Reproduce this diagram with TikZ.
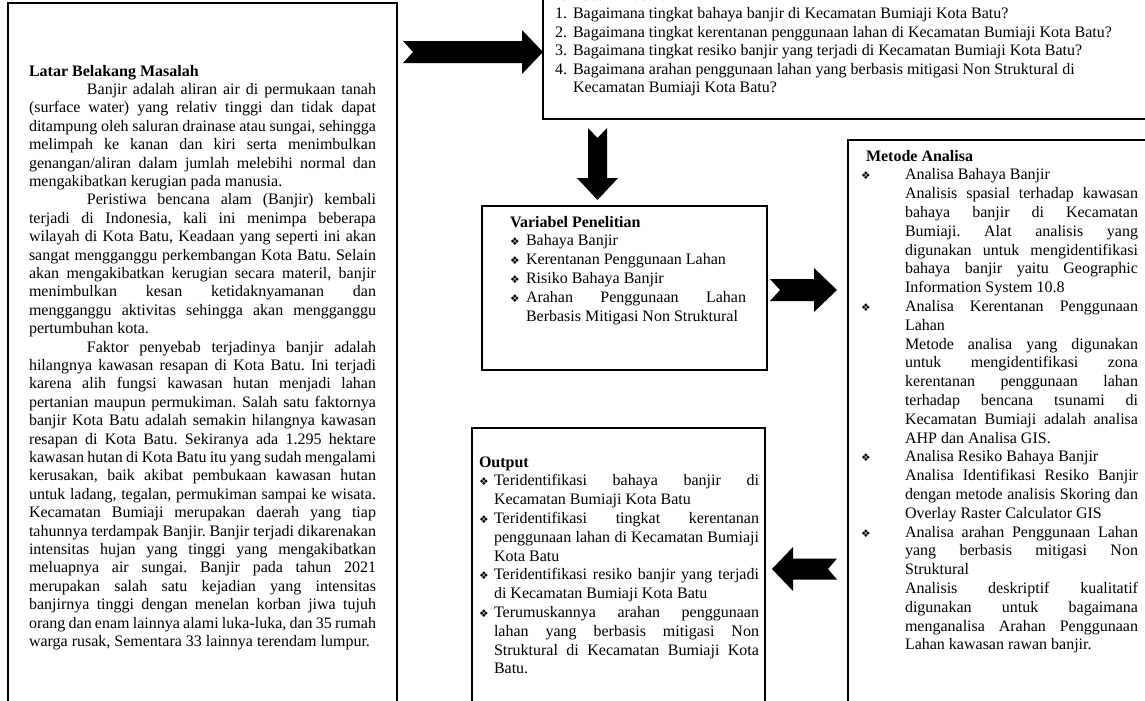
\documentclass[tikz,border=0pt]{standalone}
\usepackage{fontspec}
\setmainfont{Liberation Serif}
\newfontfamily\symfont{DejaVu Sans}
\usetikzlibrary{calc}
\frenchspacing
\newcommand{\JL}[1]{\makebox[\linewidth][s]{#1}\\}
\newcommand{\LL}[1]{\makebox[\linewidth][l]{#1}\\}
\newcommand{\EL}[1]{\makebox[\linewidth][l]{#1}}
\newcommand{\bul}[1]{\llap{\makebox[#1][l]{\symfont\fontsize{8}{8}\selectfont ❖}}}
\newcommand{\setfs}{\fontsize{12}{13.8}\selectfont\frenchspacing}
\newcommand{\setfr}{\fontsize{12}{14.1}\selectfont\frenchspacing}
\newcommand{\blockarrow}[6]{%
  \coordinate (bah) at ($(#2)!#5!(#1)$);
  \coordinate (ban) at ($(#1)!#6!(#2)$);
  \fill[arrowfill] ($(#1)!#3!90:(#2)$) -- ($(bah)!#3!90:(#2)$) -- ($(bah)!#4!90:(#2)$)
    -- (#2) -- ($(bah)!#4!-90:(#2)$) -- ($(bah)!#3!-90:(#2)$) -- ($(#1)!#3!-90:(#2)$)
    -- (ban) -- cycle;
}
\begin{document}
\begin{tikzpicture}[x=0.75pt,y=-0.75pt,
  box/.style={draw=black,line width=1.5pt,anchor=north west,inner sep=0pt,outer sep=0pt},
  txt/.style={anchor=base west,inner sep=0pt,outer sep=0pt},
  arrowfill/.style={fill=black}]
\useasboundingbox (0,0) rectangle (1145,700);
\clip (0,0) rectangle (1145,700);
\fill[white] (0,0) rectangle (1145,700);

% boxes
\node[box,minimum width=291.75pt,minimum height=537.75pt] (lb) at (8,3) {};
\node[box,minimum width=465pt,minimum height=104.25pt] (rm) at (543,-20) {};
\node[box,minimum width=213.75pt,minimum height=123pt] (vp) at (482,206) {};
\node[box,minimum width=234pt,minimum height=435pt] (ma) at (848,140) {};
\node[box,minimum width=219.75pt,minimum height=219pt] (op) at (472,428) {};

% left box text
\node[txt] (lbt) at (29,76) {\parbox[t]{260.25pt}{\setfs
\LL{\textbf{Latar Belakang Masalah}}
\JL{\hspace*{43.5pt}Banjir adalah aliran air di permukaan tanah}
\JL{(surface water) yang relativ tinggi dan tidak dapat}
\JL{ditampung oleh saluran drainase atau sungai, sehingga}
\JL{melimpah ke kanan dan kiri serta menimbulkan}
\JL{genangan/aliran dalam jumlah melebihi normal dan}
\LL{mengakibatkan kerugian pada manusia.}
\JL{\hspace*{43.5pt}Peristiwa bencana alam (Banjir) kembali}
\JL{terjadi di Indonesia, kali ini menimpa beberapa}
\JL{wilayah di Kota Batu, Keadaan yang seperti ini akan}
\JL{sangat mengganggu perkembangan Kota Batu. Selain}
\JL{akan mengakibatkan kerugian secara materil, banjir}
\JL{menimbulkan kesan ketidaknyamanan dan}
\JL{mengganggu aktivitas sehingga akan mengganggu}
\LL{pertumbuhan kota.}
\JL{\hspace*{43.5pt}Faktor penyebab terjadinya banjir adalah}
\JL{hilangnya kawasan resapan di Kota Batu. Ini terjadi}
\JL{karena alih fungsi kawasan hutan menjadi lahan}
\JL{pertanian maupun permukiman. Salah satu faktornya}
\JL{banjir Kota Batu adalah semakin hilangnya kawasan}
\JL{resapan di Kota Batu. Sekiranya ada 1.295 hektare}
\JL{kawasan hutan di Kota Batu itu yang sudah mengalami}
\JL{kerusakan, baik akibat pembukaan kawasan hutan}
\JL{untuk ladang, tegalan, permukiman sampai ke wisata.}
\JL{Kecamatan Bumiaji merupakan daerah yang tiap}
\JL{tahunnya terdampak Banjir. Banjir terjadi dikarenakan}
\JL{intensitas hujan yang tinggi yang mengakibatkan}
\JL{meluapnya air sungai. Banjir pada tahun 2021}
\JL{merupakan salah satu kejadian yang intensitas}
\JL{banjirnya tinggi dengan menelan korban jiwa tujuh}
\JL{orang dan enam lainnya alami luka-luka, dan 35 rumah}
\EL{warga rusak, Sementara 33 lainnya terendam lumpur.}}};

% top box text
\node[txt] (rmt) at (573,0.5) {\parbox[t]{420pt}{\setfs
\LL{\hspace*{-18pt}\textbf{Rumusan Masalah}}
\LL{\llap{\makebox[13.5pt][l]{1.}}Bagaimana tingkat bahaya banjir di Kecamatan Bumiaji Kota Batu?}
\LL{\llap{\makebox[13.5pt][l]{2.}}Bagaimana tingkat kerentanan penggunaan lahan di Kecamatan Bumiaji Kota Batu?}
\LL{\llap{\makebox[13.5pt][l]{3.}}Bagaimana tingkat resiko banjir yang terjadi di Kecamatan Bumiaji Kota Batu?}
\LL{\llap{\makebox[13.5pt][l]{4.}}Bagaimana arahan penggunaan lahan yang berbasis mitigasi Non Struktural di}
\EL{Kecamatan Bumiaji Kota Batu?}}};

% variabel box text
\node[txt] (vpt) at (526,227) {\parbox[t]{165pt}{\setfr
\LL{\hspace*{-12pt}\textbf{Variabel Penelitian}}
\LL{\bul{12pt}Bahaya Banjir}
\LL{\bul{12pt}Kerentanan Penggunaan Lahan}
\LL{\bul{12pt}Risiko Bahaya Banjir}
\JL{\bul{12pt}Arahan Penggunaan Lahan}
\EL{Berbasis Mitigasi Non Struktural}}};

% output box text
\node[txt] (opt) at (494,467) {\parbox[t]{198.75pt}{\setfr
\LL{\hspace*{-11.25pt}\textbf{Output}}
\JL{\bul{11.25pt}Teridentifikasi bahaya banjir di}
\LL{Kecamatan Bumiaji Kota Batu}
\JL{\bul{11.25pt}Teridentifikasi tingkat kerentanan}
\JL{penggunaan lahan di Kecamatan Bumiaji}
\LL{Kota Batu}
\JL{\bul{11.25pt}Teridentifikasi resiko banjir yang terjadi}
\LL{di Kecamatan Bumiaji Kota Batu}
\JL{\bul{11.25pt}Terumuskannya arahan penggunaan}
\JL{lahan yang berbasis mitigasi Non}
\JL{Struktural di Kecamatan Bumiaji Kota}
\EL{Batu.}}};

% metode box text
\node[txt] (mat) at (905,161) {\parbox[t]{174.75pt}{\setfr
\LL{\hspace*{-29.25pt}\textbf{Metode Analisa}}
\LL{\bul{33pt}Analisa Bahaya Banjir}
\JL{Analisis spasial terhadap kawasan}
\JL{bahaya banjir di Kecamatan}
\JL{Bumiaji. Alat analisis yang}
\JL{digunakan untuk mengidentifikasi}
\JL{bahaya banjir yaitu Geographic}
\LL{Information System 10.8}
\JL{\bul{33pt}Analisa Kerentanan Penggunaan}
\LL{Lahan}
\JL{Metode analisa yang digunakan}
\JL{untuk mengidentifikasi zona}
\JL{kerentanan penggunaan lahan}
\JL{terhadap bencana tsunami di}
\JL{Kecamatan Bumiaji adalah analisa}
\LL{AHP dan Analisa GIS.}
\LL{\bul{33pt}Analisa Resiko Bahaya Banjir}
\JL{Analisa Identifikasi Resiko Banjir}
\JL{dengan metode analisis Skoring dan}
\LL{Overlay Raster Calculator GIS}
\JL{\bul{33pt}Analisa arahan Penggunaan Lahan}
\JL{yang berbasis mitigasi Non}
\LL{Struktural}
\JL{Analisis deskriptif kualitatif}
\JL{digunakan untuk bagaimana}
\JL{menganalisa Arahan Penggunaan}
\EL{Lahan kawasan rawan banjir.}}};

% block arrows
\coordinate (a1s) at ($(lb.east |- 0,52)+(6,0)$);
\coordinate (a1e) at (rm.west |- 0,52);
\blockarrow{a1s}{a1e}{8.25pt}{16.5pt}{15.75pt}{7.5pt}
\coordinate (a2s) at ($(597.5,0 |- rm.south)+(0,9)$);
\coordinate (a2e) at ($(597.5,0 |- vp.north)+(0,-6)$);
\blockarrow{a2s}{a2e}{7.125pt}{15.375pt}{16.5pt}{7.5pt}
\coordinate (a3s) at ($(vp.east |- 0,290)+(3,0)$);
\coordinate (a3e) at ($(ma.west |- 0,290)+(-11,0)$);
\blockarrow{a3s}{a3e}{8.25pt}{16.5pt}{17.25pt}{7.5pt}
\coordinate (a4s) at ($(ma.west |- 0,569)+(-11,0)$);
\coordinate (a4e) at ($(op.east |- 0,569)+(7,0)$);
\blockarrow{a4s}{a4e}{7.875pt}{16.5pt}{15.75pt}{6.75pt}
\end{tikzpicture}
\end{document}
